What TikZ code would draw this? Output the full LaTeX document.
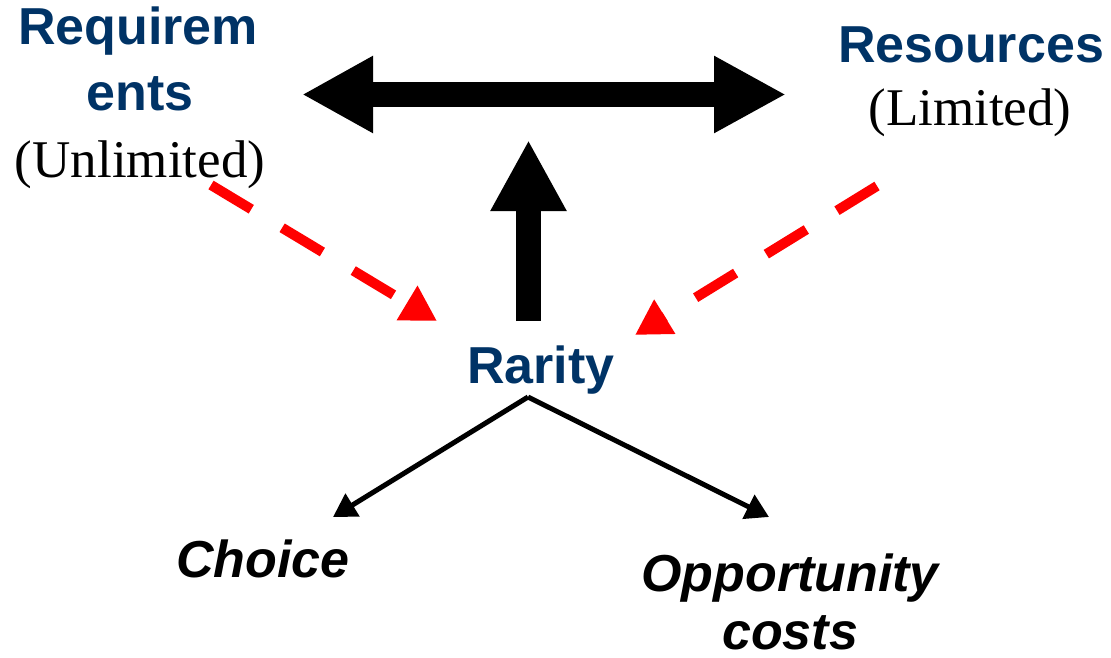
\documentclass[tikz,border=0pt]{standalone}
\usepackage{fontspec}
\setmainfont{Liberation Serif}
\newfontfamily\arialfont{Liberation Sans}
\usetikzlibrary{arrows.meta}
\definecolor{darkblue}{RGB}{0,51,102}
\definecolor{pptred}{RGB}{255,0,0}
\begin{document}
\begin{tikzpicture}[x=1pt,y=-1pt,
  bluetxt/.style={font=\arialfont\bfseries\fontsize{52}{60}\selectfont, text=darkblue, anchor=base, inner sep=0pt},
  serif/.style={font=\fontsize{53}{60}\selectfont, anchor=base, inner sep=0pt},
  blacktxt/.style={font=\arialfont\bfseries\itshape\fontsize{52}{60}\selectfont, anchor=base, inner sep=0pt},
  bigarrow/.style={line width=25pt, draw=black},
  redarrow/.style={line width=10pt, draw=pptred, dash pattern=on 47pt off 36pt, -{Triangle[length=35pt,width=38pt]}, pptred},
  thinarrow/.style={line width=5pt, -{Triangle[length=23pt,width=26pt]}}
]
\useasboundingbox (0,0) rectangle (1111,658);

% texts
\node[bluetxt] (req1) at (138,45) {Requirem};
\node[bluetxt] (req2) at (140,111) {ents};
\node[serif] (unl) at (140,178) {(Unlimited)};
\node[bluetxt] (res) at (971,63) {Resources};
\node[serif] (lim) at (970,126) {(Limited)};
\node[bluetxt] (rar) at (541,383) {Rarity};
\node[blacktxt] (cho) at (263,577) {Choice};
\node[blacktxt] (opp1) at (790,591) {Opportunity};
\node[blacktxt] (opp2) at (790,649) {costs};

% connector end points
\coordinate (dl) at (302,94.5);
\coordinate (dr) at (786,94.5);
\coordinate (upb) at (528.5,321);
\coordinate (upt) at (528.5,140);
\coordinate (rls) at (211,185);
\coordinate (rlt) at (437,321);
\coordinate (rrs) at (877,186);
\coordinate (rrt) at (635,335);
\coordinate (apex) at (528,397);
\coordinate (chot) at (333,517);
\coordinate (oppt) at (769,517);

% big arrows
\draw[bigarrow, {Triangle[length=71pt,width=72pt]}-{Triangle[length=72pt,width=72pt]}] (dl) -- (dr);
\draw[bigarrow, -{Triangle[length=71pt,width=71pt]}] (upb) -- (upt);

% red dashed arrows
\draw[redarrow] (rls) -- (rlt);
\draw[redarrow] (rrs) -- (rrt);

% thin arrows
\draw[thinarrow] (apex) -- (chot);
\draw[thinarrow] (apex) -- (oppt);
\end{tikzpicture}
\end{document}
